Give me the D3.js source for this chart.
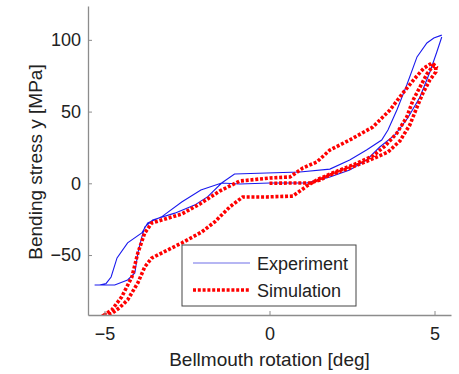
<!DOCTYPE html>
<html>
<head>
<meta charset="utf-8">
<script src="https://cdn.jsdelivr.net/npm/d3@7"></script>
<style>
  body { margin: 0; background: #fff; }
  text { font-family: Arial, "Liberation Sans", sans-serif; fill: #222; }
</style>
</head>
<body>
<div id="chart"></div>
<script>
// experiment loop: rotation [deg], stress [MPa]
var expRotation = [5.22, 4.98, 4.77, 4.47, 4.16, 3.86, 3.59, 3.40, 2.94, 2.43, 1.83, 0.92, -0.08, -1.06, -1.45, -1.87, -2.27, -2.87, -3.54, -3.78, -3.87, -3.99, -4.08, -4.30, -4.69, -5.05, -5.30,
  -5.15, -4.95, -4.80, -4.62, -4.30, -3.87, -3.69, -3.27, -2.66, -2.08, -1.45, -0.90, 0.01, 1.13, 1.83, 2.43, 2.94, 3.34, 3.80, 4.19, 4.56, 4.86, 5.07, 5.22];
var expStress = [103.3, 101.3, 97.8, 88.1, 68.5, 51.1, 37.1, 30.2, 23.2, 16.2, 9.9, 7.9, 7.2, 6.5, 0.2, -9.3, -15.2, -20.8, -25.6, -30.5, -37.5, -48.6, -62.5, -67.4, -70.9, -70.9, -70.9,
  -70.9, -69.8, -65.3, -52.0, -41.5, -34.6, -27.6, -23.4, -13.0, -4.7, 0.2, -0.5, 0.2, 0.2, 4.4, 9.3, 16.2, 25.3, 33.7, 45.5, 60.2, 77.6, 91.5, 102.0];

// simulation path
var simRotation = [0, 0.62, 1.22, 1.53, 1.83, 2.43, 3.04, 3.59, 3.95, 4.25, 4.47, 4.65, 4.86, 5.04, 5.04, 4.92, 4.68, 4.44, 4.04, 3.65, 3.13, 2.43, 1.83, 1.43, 1.01, 0.62, 0.01, -0.90, -1.51, -2.11, -2.66, -3.27, -3.57, -3.78, -3.99, -4.17, -4.48, -4.78, -4.99,
  -4.90, -4.78, -4.54, -4.30, -3.99, -3.78, -3.57, -3.27, -2.66, -2.05, -1.66, -1.20, -0.81, -0.08, 0.71, 1.13, 1.43, 1.83, 2.53, 3.13, 3.50, 3.86, 4.16, 4.35, 4.56, 4.77, 4.95, 5.10];
var simStress = [0, 0.2, 0.2, 2.3, 5.8, 10.7, 16.2, 21.8, 29.5, 40.6, 53.1, 62.9, 72.0, 77.6, 81.7, 83.8, 80.3, 74.1, 62.9, 51.1, 39.2, 30.2, 23.2, 14.8, 10.7, 4.4, 3.7, 1.6, -5.4, -14.4, -21.4, -25.6, -27.7, -34.6, -48.6, -65.3, -79.2, -88.3, -91.5,
  -91.5, -90.8, -86.6, -81.3, -69.4, -58.3, -52.1, -48.6, -41.6, -33.9, -26.9, -16.4, -9.5, -9.5, -8.9, -1.9, 2.3, 6.5, 12.8, 19.0, 26.0, 35.0, 46.2, 58.0, 67.1, 76.2, 81.7, 80.3];

var xTicks = [-5, 0, 5];
var yTicks = [-50, 0, 50, 100];
var seriesNames = ["Experiment", "Simulation"];

var width = 459, height = 374;
var margin = { top: 6, right: 8, bottom: 59, left: 88 };
var w = width - margin.left - margin.right,
    h = height - margin.top - margin.bottom;

var x = d3.scaleLinear().domain([-5.5, 5.5]).range([0, w]);
var y = d3.scaleLinear().domain([-91.8, 123.6]).range([h, 0]);

var svg = d3.select("#chart").append("svg")
    .attr("width", width)
    .attr("height", height);

var g = svg.append("g")
    .attr("transform", "translate(" + margin.left + "," + margin.top + ")");

g.append("defs").append("clipPath")
    .attr("id", "clip")
    .append("rect")
    .attr("width", w)
    .attr("height", h);

function zip(xs, ys) {
  return xs.map(function (d, i) { return [d, ys[i]]; });
}

var line = d3.line()
    .x(function (d) { return x(d[0]); })
    .y(function (d) { return y(d[1]); });

var lines = g.append("g").attr("clip-path", "url(#clip)");

lines.append("path")
    .datum(zip(expRotation, expStress))
    .attr("d", line)
    .attr("fill", "none")
    .attr("stroke", "#1a1aee")
    .attr("stroke-width", 1.1);

lines.append("path")
    .datum(zip(simRotation, simStress))
    .attr("d", line)
    .attr("fill", "none")
    .attr("stroke", "#ff0000")
    .attr("stroke-width", 3.6)
    .attr("stroke-dasharray", "3,1.8");

// axes (only left and bottom, ticks pointing inward)
var xAxis = g.append("g")
    .attr("transform", "translate(0," + h + ")")
    .call(d3.axisBottom(x).tickValues(xTicks).tickSize(-4).tickPadding(12).tickSizeOuter(0));
var yAxis = g.append("g")
    .call(d3.axisLeft(y).tickValues(yTicks).tickSize(-4).tickPadding(7).tickSizeOuter(0));

[xAxis, yAxis].forEach(function (a) {
  a.select(".domain").attr("stroke", "#8c8c8c").attr("stroke-width", 1.3);
  a.selectAll(".tick line").attr("stroke", "#8c8c8c");
  a.selectAll(".tick text")
      .style("font-size", "18px")
      .attr("fill", "#222");
});

// axis labels
svg.append("text")
    .attr("x", margin.left + x(0))
    .attr("y", 366)
    .attr("text-anchor", "middle")
    .style("font-size", "19px")
    .text("Bellmouth rotation [deg]");

svg.append("text")
    .attr("transform", "translate(42,162) rotate(-90)")
    .attr("text-anchor", "middle")
    .style("font-size", "19px")
    .text("Bending stress y [MPa]");

// legend
var legend = svg.append("g").attr("transform", "translate(182,245)");
legend.append("rect")
    .attr("width", 174)
    .attr("height", 61)
    .attr("fill", "#fff")
    .attr("stroke", "#444")
    .attr("stroke-width", 1);

var legendStyles = [
  { stroke: "#6e6ee8", width: 1.1, dash: null },
  { stroke: "#ff0000", width: 3.6, dash: "3,1.8" }
];

legend.selectAll("g.item")
    .data(seriesNames).enter()
    .append("g")
    .attr("class", "item")
    .attr("transform", function (d, i) { return "translate(0," + (18 + i * 27) + ")"; })
    .each(function (d, i) {
      var item = d3.select(this);
      item.append("line")
          .attr("x1", 11).attr("x2", 68)
          .attr("y1", 0).attr("y2", 0)
          .attr("stroke", legendStyles[i].stroke)
          .attr("stroke-width", legendStyles[i].width)
          .attr("stroke-dasharray", legendStyles[i].dash);
      item.append("text")
          .attr("x", 75)
          .attr("y", 7)
          .style("font-size", "18px")
          .text(d);
    });
</script>
</body>
</html>
